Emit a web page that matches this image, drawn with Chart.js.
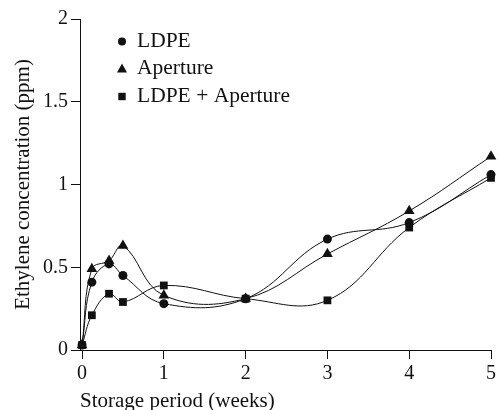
<!DOCTYPE html>
<html>
<head>
<meta charset="utf-8">
<script src="https://cdn.jsdelivr.net/npm/chart.js@4/dist/chart.umd.min.js"></script>
<style>
  html, body { margin: 0; padding: 0; background: #fff; }
  #wrap { width: 499px; height: 410px; position: relative; }
</style>
</head>
<body>
<div id="wrap"><canvas id="c" width="499" height="410"></canvas></div>
<script>
const weeks = [0, 0.12, 0.33, 0.5, 1, 2, 3, 4, 5];
const ldpe = [0.03, 0.41, 0.52, 0.45, 0.28, 0.31, 0.67, 0.77, 1.06];
const aperture = [0.03, 0.49, 0.54, 0.63, 0.33, 0.31, 0.58, 0.84, 1.17];
const ldpeAperture = [0.03, 0.21, 0.34, 0.29, 0.39, 0.31, 0.30, 0.74, 1.04];
const seriesLabels = ['LDPE', 'Aperture', 'LDPE + Aperture'];
const xTicks = [0, 1, 2, 3, 4, 5];
const yTicks = [0, 0.5, 1, 1.5, 2];

const FONT = '"Liberation Serif", "Times New Roman", serif';

function pts(ys) { return weeks.map((x, i) => ({ x: x, y: ys[i] })); }

const styles = [
  { pointStyle: 'circle', radius: 4.5 },
  { pointStyle: 'triangle', radius: 6.2 },
  { pointStyle: 'rect', radius: 5.5 }
];

const datasets = [ldpe, aperture, ldpeAperture].map((ys, i) => ({
  label: seriesLabels[i],
  data: pts(ys),
  borderColor: '#111',
  backgroundColor: '#111',
  borderWidth: 1,
  pointStyle: styles[i].pointStyle,
  pointRadius: styles[i].radius,
  pointBackgroundColor: '#111',
  pointBorderColor: '#111',
  pointBorderWidth: 0,
  tension: 0.4,
  clip: false,
  fill: false
}));

const legendPlugin = {
  id: 'innerLegend',
  afterDraw(chart) {
    const ctx = chart.ctx;
    const baseX = 122, textX = 137;
    const baselines = [46.5, 74, 101.5];
    ctx.save();
    ctx.fillStyle = '#111';
    ctx.font = '21.5px ' + FONT;
    ctx.textBaseline = 'alphabetic';
    ctx.textAlign = 'left';
    chart.data.datasets.forEach((ds, i) => {
      const b = baselines[i];
      const cy = b - 5;
      ctx.beginPath();
      if (ds.pointStyle === 'circle') {
        ctx.arc(baseX, cy, 4, 0, Math.PI * 2);
      } else if (ds.pointStyle === 'triangle') {
        ctx.moveTo(baseX, cy - 5.5);
        ctx.lineTo(baseX + 5, cy + 3.5);
        ctx.lineTo(baseX - 5, cy + 3.5);
        ctx.closePath();
      } else {
        ctx.rect(baseX - 3.7, cy - 3.7, 7.4, 7.4);
      }
      ctx.fill();
      ctx.fillText(ds.label, textX, b);
    });
    ctx.restore();
  }
};

new Chart(document.getElementById('c'), {
  type: 'line',
  data: { datasets: datasets },
  options: {
    responsive: false,
    animation: false,
    devicePixelRatio: 1,
    layout: { padding: { top: 19, right: 7, bottom: 0, left: 0 } },
    plugins: { legend: { display: false }, tooltip: { enabled: false } },
    scales: {
      x: {
        type: 'linear',
        min: -0.025,
        max: 5,
        afterBuildTicks(scale) { scale.ticks = xTicks.map(v => ({ value: v })); },
        afterFit(scale) { scale.height = 60; },
        grid: { drawOnChartArea: false, drawTicks: true, tickLength: 9, color: '#111', lineWidth: 1 },
        border: { display: true, color: '#111', width: 1 },
        ticks: { color: '#111', font: { family: FONT, size: 20 }, padding: 3, maxRotation: 0,
                 callback: v => String(v) },
        title: {
          display: true,
          text: 'Storage period (weeks)',
          align: 'start',
          color: '#111',
          font: { family: FONT, size: 21, lineHeight: 0.8 },
          padding: { top: 0, bottom: 0 }
        }
      },
      y: {
        type: 'linear',
        min: 0,
        max: 2,
        afterBuildTicks(scale) { scale.ticks = yTicks.map(v => ({ value: v })); },
        afterFit(scale) { scale.width = 80; },
        grid: { drawOnChartArea: false, drawTicks: true, tickLength: 9, color: '#111', lineWidth: 1 },
        border: { display: true, color: '#111', width: 1 },
        ticks: { color: '#111', font: { family: FONT, size: 20 }, padding: 3,
                 callback: v => String(v) },
        title: {
          display: true,
          text: 'Ethylene concentration (ppm)',
          color: '#111',
          font: { family: FONT, size: 21 },
          padding: { top: 11, bottom: 0 }
        }
      }
    }
  },
  plugins: [legendPlugin]
});
</script>
</body>
</html>
